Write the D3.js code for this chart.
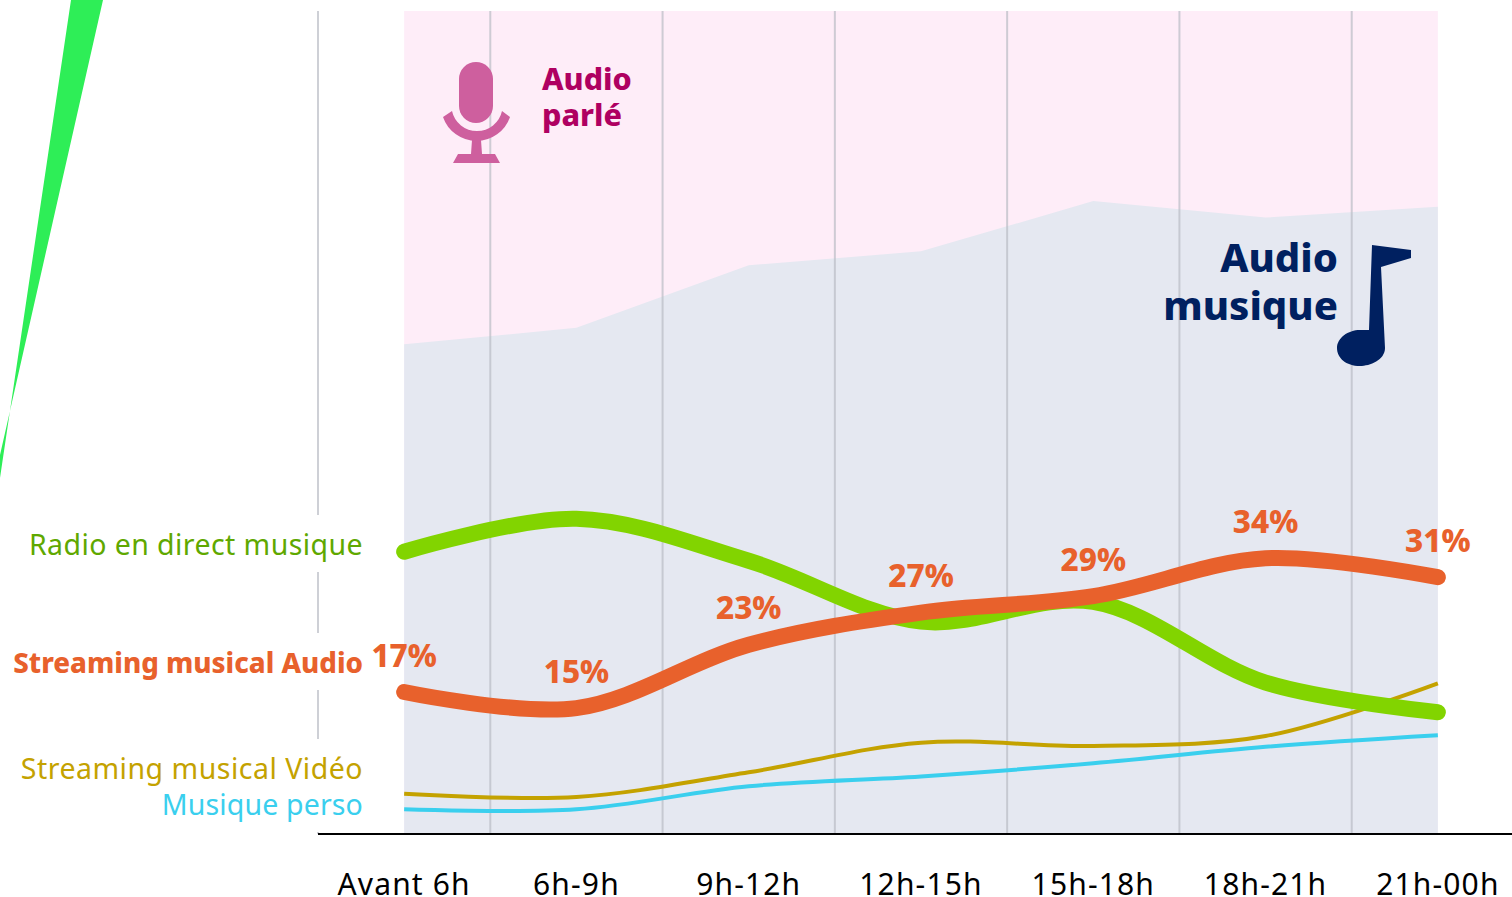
<!DOCTYPE html>
<html><head><meta charset="utf-8">
<script src="https://cdn.jsdelivr.net/npm/d3@7"></script>
<style>
html,body{margin:0;padding:0;background:#fff;overflow:hidden}
svg{display:block}
text{font-family:"Noto Sans",sans-serif}
.axis text{font-size:30px;fill:#000;letter-spacing:1.15px}
.axis path,.axis line{display:none}
</style></head><body>
<svg id="c" width="1512" height="897"></svg>
<script>
const categories=["Avant 6h","6h-9h","9h-12h","12h-15h","15h-18h","18h-21h","21h-00h"];
const audioMusique=[59.5,61.5,69.1,70.8,76.9,74.9,76.2];
const radioDirect=[34.3,38.3,33.2,25.8,28.2,18.4,14.8];
const streamingAudio=[17.25,15.3,23.0,26.9,28.9,33.5,31.2];
const streamingVideo=[4.9,4.5,7.5,11.1,10.7,11.9,18.3];
const musiquePerso=[3.0,3.0,5.8,7.0,8.6,10.6,12.0];
const streamingLabels=["17%","15%","23%","27%","29%","34%","31%"];

const svg=d3.select("#c");
const band=d3.scaleBand().domain(categories).range([318,1524]).padding(0);
const x=c=>band(c)+band.bandwidth()/2;
const y=d3.scaleLinear().domain([0,100]).range([834,11]);
const xs=categories.map(x);

// stray wedge at the top left of the picture
svg.append("path").attr("fill","#2EEE57")
  .attr("d","M71,0L103,0L0,455L0,478Z");

// backgrounds
svg.append("rect").attr("x",xs[0]).attr("y",y(100)).attr("width",xs[6]-xs[0]).attr("height",y(0)-y(100)).attr("fill","#FEEDF8");
svg.append("path").datum(audioMusique).attr("fill","#E5E8F1")
  .attr("d",d3.area().x((d,i)=>xs[i]).y0(y(0)).y1(d=>y(d)));

// grid lines on band edges
const edges=categories.map(c=>band(c));
svg.selectAll("line.g").data(edges).join("line").attr("class","g")
  .attr("x1",d=>d).attr("x2",d=>d).attr("y1",y(100)).attr("y2",y(0))
  .attr("stroke","#B9BCC4").attr("stroke-opacity",.7).attr("stroke-width",2);

// baseline
svg.append("line").attr("x1",318).attr("x2",1512).attr("y1",y(0)).attr("y2",y(0)).attr("stroke","#000").attr("stroke-width",2);

// tick labels
svg.append("g").attr("class","axis").attr("transform",`translate(0,${y(0)})`)
  .call(d3.axisBottom(band).tickSizeOuter(0).tickSize(0).tickPadding(40));

// curves
const line=d3.line().x((d,i)=>xs[i]).y(d=>y(d)).curve(d3.curveCatmullRom.alpha(0.5));
const series=[
 {v:musiquePerso,c:"#3ACFEE",w:4,cap:"butt"},
 {v:streamingVideo,c:"#C4A200",w:4,cap:"butt"},
 {v:radioDirect,c:"#82D400",w:16,cap:"round"},
 {v:streamingAudio,c:"#E8612C",w:16,cap:"round"}
];
svg.selectAll("path.s").data(series).join("path").attr("class","s")
  .attr("fill","none").attr("stroke",d=>d.c).attr("stroke-width",d=>d.w).attr("stroke-linecap",d=>d.cap)
  .attr("d",d=>line(d.v));

// point labels
svg.selectAll("text.p").data(streamingLabels).join("text").attr("class","p")
  .attr("x",(d,i)=>xs[i]).attr("y",(d,i)=>y(streamingAudio[i])-25.5).attr("text-anchor","middle")
  .attr("font-size",31.5).attr("font-weight",800).attr("fill","#E8612C").text(d=>d);

// series labels, each on a white patch that interrupts the left-hand rule
const labels=[
 {t:"Radio en direct musique",y:555,c:"#5FA800",w:400,fs:28.5,ls:.42},
 {t:"Streaming musical Audio",y:673,c:"#E8612C",w:800,fs:27.7,ls:0},
 {t:"Streaming musical Vidéo",y:779,c:"#C4A200",w:400,fs:28.5,ls:.5},
 {t:"Musique perso",y:815,c:"#3ACFEE",w:400,fs:28.5,ls:.15}
];
svg.selectAll("rect.l").data(labels).join("rect").attr("class","l")
  .attr("x",308).attr("y",d=>d.y-40).attr("width",55).attr("height",57).attr("fill","#fff");
svg.selectAll("text.l").data(labels).join("text").attr("class","l")
  .attr("x",363).attr("y",d=>d.y).attr("text-anchor","end").attr("font-size",d=>d.fs)
  .attr("letter-spacing",d=>d.ls).attr("font-weight",d=>d.w).attr("fill",d=>d.c).text(d=>d.t);

// Audio parlé block
const mic=svg.append("g").attr("fill","#CE5F9E");
mic.append("rect").attr("x",459).attr("y",62).attr("width",34).attr("height",61).attr("rx",17);
mic.append("path").attr("d","M443,117L452,111A25.6,25.6 0 0 0 502,111L510,117A35.4,35.4 0 0 1 443,117Z");
mic.append("path").attr("d","M472,140L481,140L482,154L495,154L500,163L453,163L458,154L471,154Z");
svg.append("g").selectAll("text").data(["Audio","parlé"]).join("text")
  .attr("x",542).attr("y",(d,i)=>90+i*36).attr("font-size",30.5).attr("font-weight",800).attr("fill","#AF0061").text(d=>d);

// Audio musique block
svg.append("g").selectAll("text").data(["Audio","musique"]).join("text")
  .attr("x",1338).attr("y",(d,i)=>272+i*48).attr("text-anchor","end").attr("font-size",40).attr("font-weight",800).attr("fill","#002060").text(d=>d);
svg.append("path").attr("fill","#002060")
  .attr("d","M1372,245L1411,250L1411,258L1381,267L1385,348C1385,360 1370,366 1360,366C1346,366 1337,358 1337,348C1337,338 1348,330 1360,330L1369,330Z");
</script></body></html>
